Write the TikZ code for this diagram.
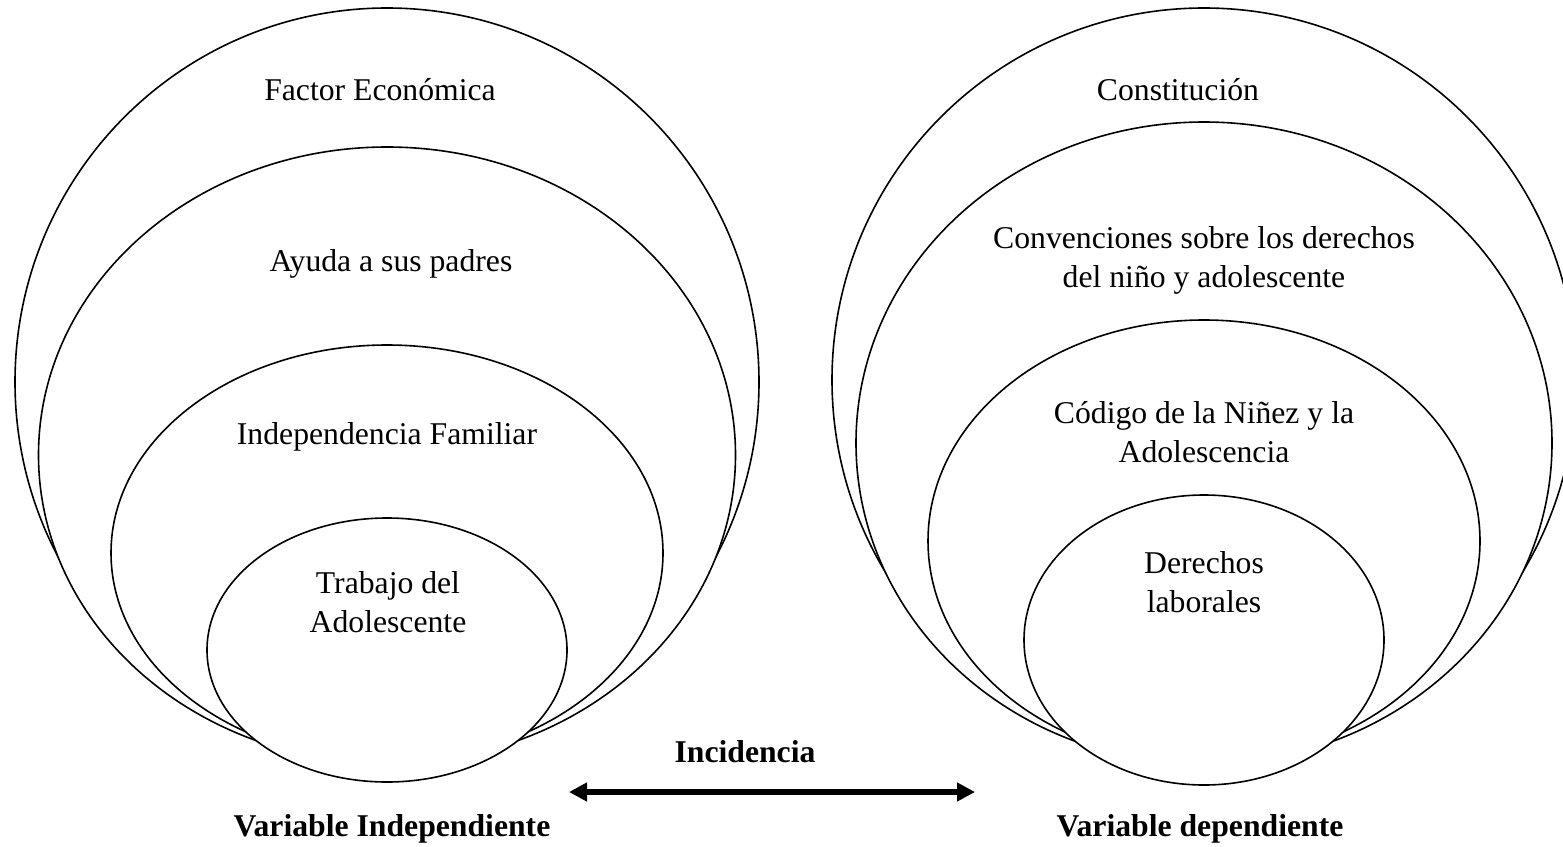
\documentclass[tikz,border=0pt]{standalone}
\usepackage{fontspec}
\setmainfont{Liberation Serif}
\usetikzlibrary{shapes.geometric,arrows.meta}

\begin{document}
\begin{tikzpicture}[x=1pt,y=-1pt]
 \tikzset{ring node/.style={ellipse, draw, fill=white,
 		line width=1.6pt, inner sep=0pt}, }
 \tikzset{text node/.style={align=center,
 		font=\fontsize{31.7}{39}\selectfont}, }
 \tikzset{title node/.style={text node, font=\fontsize{31.7}{39}\selectfont\bfseries}, }
 \tikzset{linea/.style={{Triangle[length=18pt,width=18pt]}-{Triangle[length=18pt,width=18pt]}, line width=6pt},}
 \useasboundingbox (0,0) rectangle (1563,846);
 % independiente
 \node[ring node, minimum width=744pt, minimum height=748pt] (eco) at (387,382) {};
 \node[ring node, minimum width=697pt, minimum height=616pt] (ayuda) at (387,455) {};
 \node[ring node, minimum width=552pt, minimum height=416pt] (indep) at (387,553) {};
 \node[ring node, minimum width=360pt, minimum height=264pt] (trab) at (387,650) {};
 % dependiente
 \node[ring node, minimum width=744pt, minimum height=744pt] (const) at (1204,380) {};
 \node[ring node, minimum width=696pt, minimum height=642pt] (conv) at (1204,443) {};
 \node[ring node, minimum width=552pt, minimum height=442pt] (cod) at (1204,541) {};
 \node[ring node, minimum width=360pt, minimum height=290pt] (der) at (1204,640) {};

 \node[text node] (t1) at (380,90) {Factor Económica};
 \node[text node] (t2) at (391,264) {Ayuda a sus padres};
 \node[text node] (t3) at (387,437) {Independencia Familiar};
 \node[text node] (t4) at (388,602) {Trabajo del\\Adolescente};
 \node[text node] (t5) at (1178,90) {Constitución};
 \node[text node] (t6) at (1204,260) {Convenciones sobre los derechos\\del niño y adolescente};
 \node[text node] (t7) at (1204,432) {Código de la Niñez y la\\Adolescencia};
 \node[text node] (t8) at (1204,582) {Derechos\\laborales};

 \node[title node] (inc) at (745,752) {Incidencia};
 \node[title node] (vi) at (392,829) {Variable Independiente};
 \node[title node] (vd) at (1200,829) {Variable dependiente};
 \coordinate (izq) at (569,792);
 \coordinate (der2) at (975,792);
 \draw[linea] (izq) -- (der2);
\end{tikzpicture}
\end{document}
